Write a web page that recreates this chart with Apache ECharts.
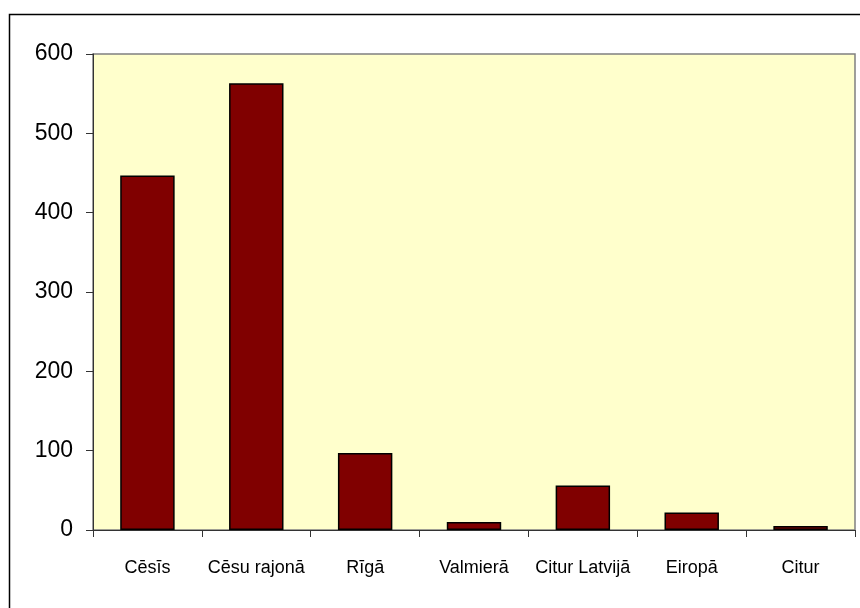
<!DOCTYPE html>
<html>
<head>
<meta charset="utf-8">
<script src="https://cdn.jsdelivr.net/npm/echarts@6/dist/echarts.min.js"></script>
<style>html,body{margin:0;padding:0;background:#fff}#c{width:860px;height:608px}</style>
</head>
<body>
<div id="c"></div>
<script>
const categories = ['Cēsīs', 'Cēsu rajonā', 'Rīgā', 'Valmierā', 'Citur Latvijā', 'Eiropā', 'Citur'];
const values = [447, 563, 97, 10, 56, 22, 5];
const yTicks = [0, 100, 200, 300, 400, 500, 600];

const chart = echarts.init(document.getElementById('c'), null, {renderer: 'canvas'});
chart.setOption({
  animation: false,
  backgroundColor: '#fff',
  graphic: [{
    type: 'rect', z: 100, silent: true,
    shape: {x: 9.5, y: 14.5, width: 1000, height: 1000},
    style: {fill: 'none', stroke: '#000', lineWidth: 1.5}
  }],
  grid: {
    left: 93, top: 54, right: 5, bottom: 78,
    show: true, backgroundColor: '#FFFFCC', borderColor: '#808080', borderWidth: 1.5
  },
  xAxis: {
    type: 'category',
    data: categories,
    axisLine: {lineStyle: {color: '#333', width: 1}},
    axisTick: {show: true, length: 7, inside: false, alignWithLabel: false, lineStyle: {color: '#333'}},
    axisLabel: {
      interval: 0, margin: 29, color: '#000', fontSize: 18,
      fontFamily: '"Liberation Sans", Arial, sans-serif'
    },
    splitLine: {show: false}
  },
  yAxis: {
    type: 'value',
    min: yTicks[0], max: yTicks[yTicks.length - 1], interval: 100,
    axisLine: {show: true, lineStyle: {color: '#333', width: 1}},
    axisTick: {show: true, length: 7, lineStyle: {color: '#333'}},
    axisLabel: {margin: 20, color: '#000', fontSize: 23, fontFamily: '"Liberation Sans", Arial, sans-serif'},
    splitLine: {show: false}
  },
  series: [{
    type: 'bar',
    data: values,
    barWidth: '50%',
    itemStyle: {color: '#800000', borderColor: '#000', borderWidth: 1.5}
  }]
});
</script>
</body>
</html>
